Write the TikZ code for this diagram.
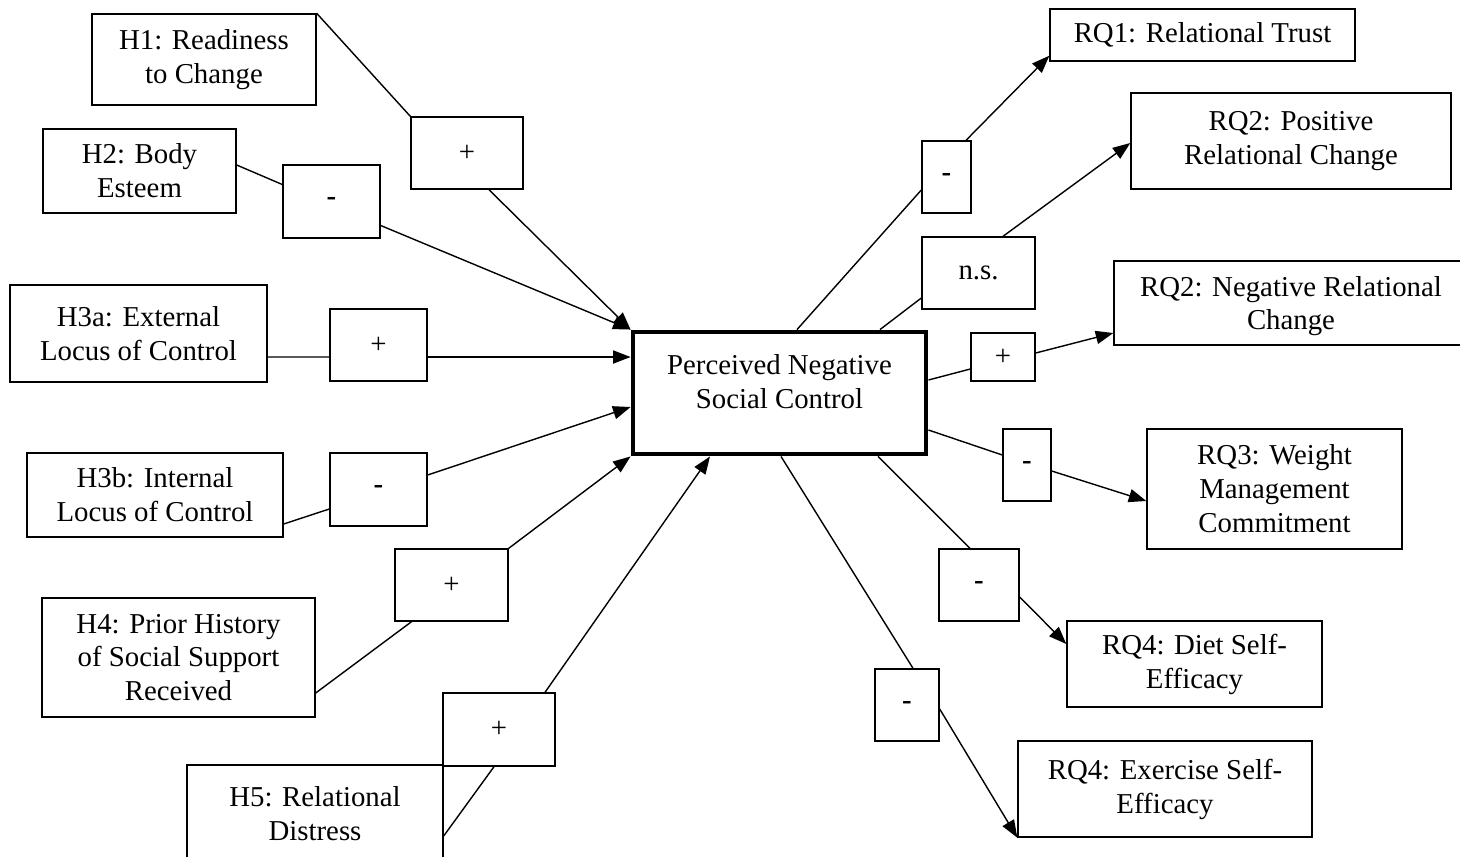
\documentclass[tikz,border=0pt]{standalone}
\usepackage{fontspec}
\setmainfont{Liberation Serif}
\usepackage{tikz}
\usetikzlibrary{arrows.meta, positioning, calc}

\begin{document}
\begin{tikzpicture}[
  x=0.02cm, y=-0.02cm,
  font=\fontsize{16.4}{19.3}\selectfont,
  var/.style={draw=black, line width=0.8pt, align=center, inner sep=2pt},
  sign/.style={var},
  core/.style={var, line width=2.8pt},
  link/.style={line width=0.8pt, draw=black},
  arrow/.style={link, -{Triangle[length=10pt, width=7.5pt]}}
]
\useasboundingbox (0,0) rectangle (1460,856);

% predictors
\node[var, minimum width=4.48cm, minimum height=1.82cm] (h1) at (204,59.5) {H1: Readiness\\to Change};
\node[var, minimum width=3.86cm, minimum height=1.68cm] (h2) at (139.5,171) {H2: Body\\Esteem};
\node[var, minimum width=5.14cm, minimum height=1.94cm] (h3a) at (138.5,333.5) {H3a: External\\Locus of Control};
\node[var, minimum width=5.12cm, minimum height=1.68cm] (h3b) at (155,495) {H3b: Internal\\Locus of Control};
\node[var, minimum width=5.46cm, minimum height=2.38cm] (h4) at (178.5,657.5) {H4: Prior History\\of Social Support\\Received};
\node[var, minimum width=5.12cm, minimum height=1.94cm] (h5) at (315,813.5) {H5: Relational\\Distress};

% mediator
\node[core, minimum width=5.86cm, minimum height=2.44cm] (pnsc) at (779.5,393) {Perceived Negative\\Social Control\\[-6pt]\mbox{}};

% outcomes
\node[var, minimum width=6.10cm, minimum height=1.04cm] (rq1) at (1202.5,35) {RQ1: Relational Trust};
\node[var, minimum width=6.40cm, minimum height=1.92cm] (rq2p) at (1291,141) {RQ2: Positive\\Relational Change};
\node[var, minimum width=7.08cm, minimum height=1.68cm, text depth=-6pt] (rq2n) at (1291,303) {RQ2: Negative Relational\\Change};
\node[var, minimum width=5.10cm, minimum height=2.40cm] (rq3) at (1274.5,489) {RQ3: Weight\\Management\\Commitment};
\node[var, minimum width=5.10cm, minimum height=1.72cm] (rq4d) at (1194.5,664) {RQ4: Diet Self-\\Efficacy};
\node[var, minimum width=5.88cm, minimum height=1.92cm] (rq4e) at (1165,789) {RQ4: Exercise Self-\\Efficacy};

% signs
\node[sign, minimum width=2.24cm, minimum height=1.44cm] (sh1) at (467,153) {+};
\node[sign, minimum width=1.94cm, minimum height=1.46cm] (sh2) at (331.5,201.5) {\textbf{-}};
\node[sign, minimum width=1.94cm, minimum height=1.44cm] (sh3a) at (378.5,345) {+};
\node[sign, minimum width=1.94cm, minimum height=1.46cm] (sh3b) at (378.5,489.5) {\textbf{-}};
\node[sign, minimum width=2.26cm, minimum height=1.44cm] (sh4) at (451.5,585) {+};
\node[sign, minimum width=2.24cm, minimum height=1.46cm] (sh5) at (499,729.5) {+};
\node[sign, minimum width=0.98cm, minimum height=1.44cm] (srq1) at (946.5,177) {\textbf{-}};
\node[sign, minimum width=2.26cm, minimum height=1.44cm] (sns) at (978.5,273) {n.s.};
\node[sign, minimum width=1.28cm, minimum height=0.96cm] (srq2n) at (1003,357) {+};
\node[sign, minimum width=0.96cm, minimum height=1.44cm] (srq3) at (1027,465) {\textbf{-}};
\node[sign, minimum width=1.60cm, minimum height=1.44cm] (sdiet) at (979,585) {\textbf{-}};
\node[sign, minimum width=1.28cm, minimum height=1.44cm] (sex) at (907,705) {\textbf{-}};

% paths in
\draw[link] (h1.north east) -- (sh1.north west);
\draw[arrow] ($(sh1.south)+(22,0)$) -- (pnsc.north west);
\draw[link] ($(h2.east)+(0,-6)$) -- ($(sh2.west)+(0,-17)$);
\draw[arrow] ($(sh2.east)+(0,24)$) -- (pnsc.north west);
\draw[link] ($(h3a.east)+(0,23.5)$) -- ($(sh3a.west)+(0,12)$);
\draw[arrow] ($(sh3a.east)+(0,12)$) -- ($(pnsc.west)+(0,-36)$);
\draw[link] ($(h3b.east)+(0,29)$) -- ($(sh3b.west)+(0,19.5)$);
\draw[arrow] ($(sh3b.east)+(0,-14.5)$) -- ($(pnsc.west)+(0,14)$);
\draw[link] ($(h4.east)+(0,35.5)$) -- ($(sh4.south)+(-40,0)$);
\draw[arrow] (sh4.north east) -- (pnsc.south west);
\draw[link] ($(h5.east)+(0,22.5)$) -- ($(sh5.south)+(-5,0)$);
\draw[arrow] ($(sh5.north)+(46,0)$) -- ($(pnsc.south)+(-69.5,0)$);

% paths out
\draw[link] ($(pnsc.north)+(17.5,0)$) -- ($(srq1.west)+(0,13)$);
\draw[arrow] ($(srq1.north)+(19.5,0)$) -- ($(rq1.south west)+(0,-6)$);
\draw[link] ($(pnsc.north)+(100.5,0)$) -- ($(sns.west)+(0,25)$);
\draw[arrow] ($(sns.north)+(24.5,0)$) -- ($(rq2p.west)+(0,2)$);
\draw[link] ($(pnsc.east)+(0,-13)$) -- ($(srq2n.west)+(0,12)$);
\draw[arrow] ($(srq2n.east)+(0,-4)$) -- ($(rq2n.west)+(0,30)$);
\draw[link] ($(pnsc.east)+(0,37)$) -- ($(srq3.west)+(0,-10)$);
\draw[arrow] ($(srq3.east)+(0,6)$) -- ($(rq3.west)+(0,12)$);
\draw[link] ($(pnsc.south)+(98.5,0)$) -- ($(sdiet.north)+(-9,0)$);
\draw[arrow] ($(sdiet.east)+(0,12)$) -- ($(rq4d.west)+(0,-20)$);
\draw[link] ($(pnsc.south)+(1.5,0)$) -- ($(sex.north)+(6,0)$);
\draw[arrow] ($(sex.east)+(0,4)$) -- (rq4e.south west);
\end{tikzpicture}
\end{document}
